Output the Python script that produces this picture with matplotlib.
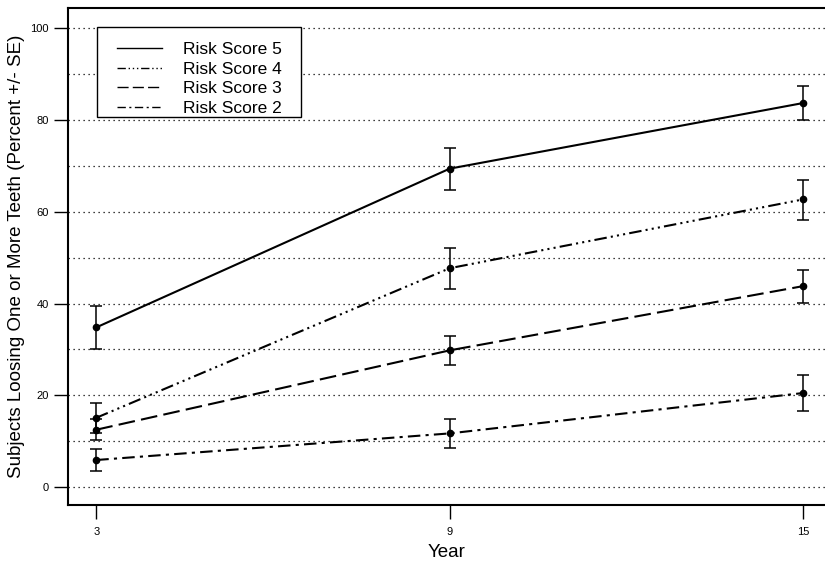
import numpy as np
import matplotlib.pyplot as plt
from matplotlib.patches import Rectangle

plt.rcParams['font.family'] = ['Liberation Sans', 'DejaVu Sans']

years = [3, 9, 15]

# percent of subjects losing teeth, with lower / upper SE limits
risk5 = [34.8, 69.4, 83.7]
risk5_lo = [30.1, 64.8, 80.0]
risk5_hi = [39.4, 73.9, 87.4]

risk4 = [15.1, 47.7, 62.7]
risk4_lo = [11.8, 43.2, 58.2]
risk4_hi = [18.4, 52.2, 67.0]

risk3 = [12.5, 29.8, 43.8]
risk3_lo = [10.2, 26.5, 40.2]
risk3_hi = [14.8, 33.0, 47.3]

risk2 = [5.9, 11.7, 20.5]
risk2_lo = [3.6, 8.5, 16.6]
risk2_hi = [8.2, 14.8, 24.5]

series = [
    ("Risk Score 5", risk5, risk5_lo, risk5_hi, '-'),
    ("Risk Score 4", risk4, risk4_lo, risk4_hi, (0, (6, 2, 1, 2, 1, 2, 1, 2))),
    ("Risk Score 3", risk3, risk3_lo, risk3_hi, (0, (8, 3))),
    ("Risk Score 2", risk2, risk2_lo, risk2_hi, (0, (6, 2.5, 1.5, 2.5))),
]

fig = plt.figure(figsize=(8.25, 5.66), dpi=100)
ax = fig.add_axes([0.0824, 0.1078, 0.9176, 0.878])

# dotted reference lines every 10 percent
for g in range(0, 101, 10):
    ax.axhline(g, color='black', linestyle=(0, (1, 3)), linewidth=0.9, zorder=0)

leg_handles = []
for name, y, lo, hi, ls in series:
    y = np.array(y)
    err = [y - np.array(lo), np.array(hi) - y]
    ax.errorbar(years, y, yerr=err, fmt='none', ecolor='black',
                elinewidth=1.1, capsize=4.5, capthick=1.1)
    ax.plot(years, y, color='black', linestyle=ls, linewidth=1.5,
            marker='o', markersize=4.5)
    leg_handles.append(plt.Line2D([], [], color='black', linestyle=ls,
                                  linewidth=1.0))

ax.set_xlim(2.52, 15.37)
ax.set_ylim(-3.9, 104.4)
ax.set_xticks(years)
ax.set_yticks([0, 20, 40, 60, 80, 100])
ax.tick_params(axis='both', direction='out', length=10, width=1, labelsize=8)
ax.tick_params(axis='x', pad=6)
ax.tick_params(axis='y', pad=4)
ax.spines['right'].set_visible(False)
for s in ['left', 'bottom', 'top']:
    ax.spines[s].set_linewidth(1.5)

ax.set_xlabel("Year", fontsize=13.5)
ax.set_ylabel("Subjects Loosing One or More Teeth (Percent +/- SE)", fontsize=13.5)
ax.yaxis.set_label_coords(-0.057, 0.5)
ax.xaxis.set_label_coords(0.5, -0.078)

# legend entries without frame; the box is drawn separately so that it can
# be wider than it is padded vertically
ax.legend(leg_handles, [s[0] for s in series], loc='upper left',
          bbox_to_anchor=(0.0647, 0.9316), borderaxespad=0, borderpad=0,
          fontsize=12.5, handlelength=2.6, handletextpad=1.2,
          labelspacing=0.25, frameon=False)
ax.add_patch(Rectangle((0.0383, 0.7807), 0.2695, 0.1811, transform=ax.transAxes,
                       facecolor='white', edgecolor='black', linewidth=1.0,
                       zorder=4))

fig.savefig("out.png", dpi=100)
